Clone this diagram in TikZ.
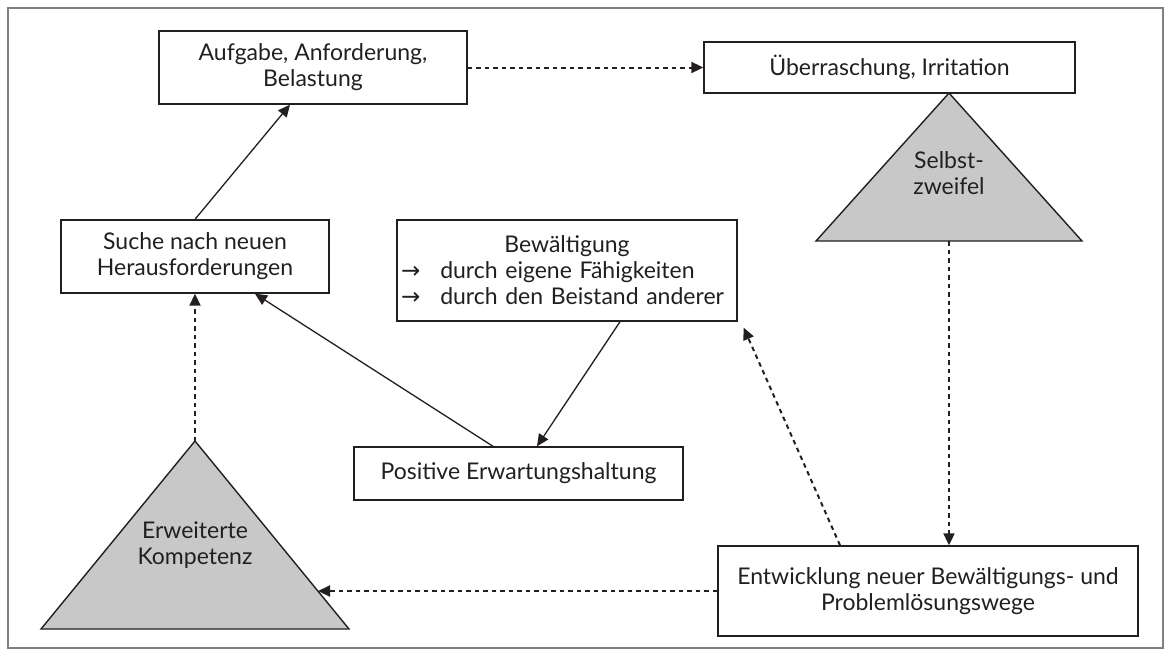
\documentclass[tikz,border=0pt]{standalone}
\usepackage{fontspec}
\setmainfont{Lato}
\newfontfamily\symfont{DejaVu Sans}
\usetikzlibrary{arrows.meta,calc}
\definecolor{ink}{HTML}{231F20}
\definecolor{trifill}{HTML}{C8C8C8}
\definecolor{framegray}{HTML}{808080}
\newcommand{\arr}{{\symfont\char"2192}}
\begin{document}
\begin{tikzpicture}[x=1pt,y=-1pt,
  every node/.style={text=ink,font=\fontsize{23}{26}\selectfont},
  box/.style={draw=ink,line width=1.4pt,fill=white,rectangle,inner sep=0pt,align=center},
  lbl/.style={align=center,inner sep=0pt},
  solidarrow/.style={draw=ink,line width=1.3pt,-{Triangle[length=12pt,width=11pt]}},
  dotarrow/.style={draw=ink,line width=2pt,dash pattern=on 4.5pt off 4pt,-{Triangle[length=12pt,width=11pt]}},
  tri/.style={draw=ink,line width=1.4pt,fill=trifill,line join=miter}
]
\useasboundingbox (0,0) rectangle (1168,657);
\draw[framegray,line width=1.5pt] (8,8) rectangle (1163,648);

% boxes
\node[box,minimum width=308pt,minimum height=73pt] (aufg) at (313,67.5) {Aufgabe, Anforderung,\\Belastung};
\node[box,minimum width=371pt,minimum height=51pt] (ueb) at (889.5,67.5) {Überraschung, Irritation};
\node[box,minimum width=268pt,minimum height=73pt] (suche) at (195,256.5) {Suche nach neuen\\Herausforderungen};
\node[box,minimum width=340pt,minimum height=101pt,text width=332pt,align=left] (bew) at (567,270.5)
  {\hfill Bewältigung\hfill\null\\\mbox{\arr\hspace{20pt}durch eigene Fähigkeiten}\\\mbox{\arr\hspace{20pt}durch den Beistand anderer}};
\node[box,minimum width=329pt,minimum height=53pt] (pos) at (518.5,473.5) {Positive Erwartungshaltung};
\node[box,minimum width=420pt,minimum height=90pt] (entw) at (928,591) {Entwicklung neuer Bewältigungs- und\\Problemlösungswege};

% triangles
\draw[tri] (949,93) -- (1082,241) -- (816,241) -- cycle;
\coordinate (sb) at (949,241);
\node[lbl] (selbst) at (949,173) {Selbst-\\zweifel};
\draw[tri] (195,441) -- (349,629) -- (41,629) -- cycle;
\coordinate (ka) at (195,441);
\coordinate (kr) at (318,591);
\node[lbl] (komp) at (195,545) {Erweiterte\\Kompetenz};

% connectors
\draw[solidarrow] (suche.north) -- ($(aufg.south)+(-23,0)$);
\draw[dotarrow] (aufg.east) -- (ueb.west);
\draw[dotarrow] (sb) -- (entw.north -| sb);
\draw[solidarrow] ($(bew.south)+(53,0)$) -- ($(pos.north)+(18.5,0)$);
\draw[solidarrow] ($(pos.north)+(-25.5,0)$) -- ($(suche.south)+(60,0)$);
\draw[dotarrow] ($(entw.north)+(-88,0)$) -- ($(bew.south east)+(6,6)$);
\draw[dotarrow] (entw.west) -- (kr);
\draw[dotarrow] (ka) -- (suche.south);
\end{tikzpicture}
\end{document}
